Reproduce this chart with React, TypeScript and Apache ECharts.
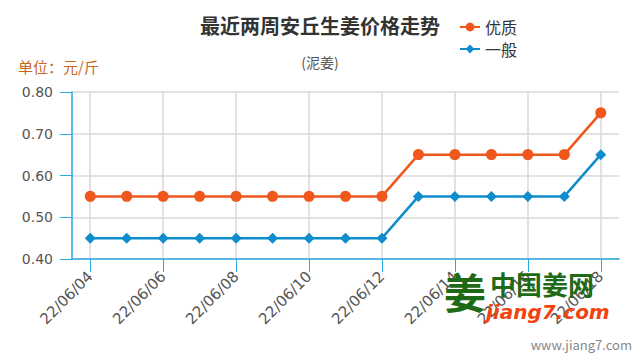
import React, { useEffect, useRef } from "react";
import * as echarts from "echarts";

const dates = [
  "22/06/04", "22/06/05", "22/06/06", "22/06/07", "22/06/08",
  "22/06/09", "22/06/10", "22/06/11", "22/06/12", "22/06/13",
  "22/06/14", "22/06/15", "22/06/16", "22/06/17", "22/06/18",
];
const premium = [0.55, 0.55, 0.55, 0.55, 0.55, 0.55, 0.55, 0.55, 0.55, 0.65, 0.65, 0.65, 0.65, 0.65, 0.75];
const normal = [0.45, 0.45, 0.45, 0.45, 0.45, 0.45, 0.45, 0.45, 0.45, 0.55, 0.55, 0.55, 0.55, 0.55, 0.65];
const seriesNames = ["优质", "一般"];

const FONT = '"Noto Sans CJK SC", "Noto Sans", sans-serif';
const NUM_FONT = '"DejaVu Sans", "Noto Sans", sans-serif';
const AXIS_BLUE = "#2aa9e0";

export default function App() {
  const ref = useRef<HTMLDivElement>(null);
  useEffect(() => {
    const chart = echarts.init(ref.current!, null, { renderer: "svg" });
    chart.setOption({
      animation: false,
      backgroundColor: "#fff",
      textStyle: { fontFamily: FONT },
      title: [
        {
          text: "最近两周安丘生姜价格走势",
          left: "center",
          top: 10,
          textStyle: { fontSize: 20, fontWeight: "bold", color: "#333", fontFamily: FONT },
        },
        {
          text: "(泥姜)",
          left: "center",
          top: 50,
          textStyle: { fontSize: 14, fontWeight: "normal", color: "#555", fontFamily: FONT },
        },
      ],
      legend: {
        orient: "vertical",
        left: 454,
        top: 14,
        itemWidth: 20,
        itemHeight: 11,
        itemGap: 6,
        textStyle: { fontSize: 16, color: "#333", fontFamily: FONT },
        data: seriesNames,
      },
      grid: { left: 72, right: 21, top: 92, bottom: 101 },
      xAxis: {
        type: "category",
        data: dates,
        boundaryGap: true,
        axisLine: { lineStyle: { color: AXIS_BLUE, width: 1.5 } },
        axisTick: { show: true, interval: 1, alignWithLabel: true, length: 13, lineStyle: { color: AXIS_BLUE } },
        axisLabel: { interval: 1, rotate: 45, margin: 15, fontSize: 15, color: "#555", fontFamily: NUM_FONT },
        splitLine: { show: true, interval: 1, alignWithLabel: true, lineStyle: { color: "#d9d9d9", width: 1.5 } },
      },
      yAxis: {
        type: "value",
        min: 0.4,
        max: 0.8,
        interval: 0.1,
        name: "单位：元/斤",
        nameLocation: "end",
        nameGap: 18,
        nameTextStyle: { color: "#c8661e", fontSize: 15, align: "left", padding: [0, 0, 0, -54], fontFamily: FONT },
        axisLine: { show: true, lineStyle: { color: AXIS_BLUE, width: 1.5 } },
        axisTick: { show: true, length: 12, lineStyle: { color: AXIS_BLUE } },
        axisLabel: { margin: 19, fontSize: 14, color: "#555", formatter: (v: number) => v.toFixed(2), fontFamily: NUM_FONT },
        splitLine: { show: true, lineStyle: { color: "#d9d9d9", width: 1.5 } },
      },
      series: [
        {
          name: seriesNames[0],
          type: "line",
          data: premium,
          symbol: "circle",
          symbolSize: 11,
          itemStyle: { color: "#ef571d" },
          lineStyle: { color: "#ef571d", width: 2.5 },
        },
        {
          name: seriesNames[1],
          type: "line",
          data: normal,
          symbol: "diamond",
          symbolSize: 11,
          itemStyle: { color: "#0e8ccb" },
          lineStyle: { color: "#0e8ccb", width: 2.5 },
        },
      ],
      graphic: [
        {
          type: "text",
          left: 490,
          top: 270,
          z: 100,
          style: { text: "中国姜网", fontSize: 26, lineHeight: 26, fontWeight: "bold", fill: "#1f6a16", fontFamily: FONT },
        },
        {
          type: "text",
          left: 486,
          top: 302,
          z: 100,
          style: { text: "jiang7.com", fontSize: 20, lineHeight: 20, fontWeight: "bold", fontStyle: "italic", fill: "#f2420f", fontFamily: NUM_FONT },
        },
        {
          type: "text",
          left: 444,
          top: 268,
          z: 100,
          style: { text: "姜", fontSize: 42, lineHeight: 44, fontWeight: "bold", fill: "#1f6a16", fontFamily: FONT },
        },
        {
          type: "text",
          right: 8,
          top: 338,
          style: { text: "www.jiang7.com", fontSize: 13, fill: "#888", fontFamily: FONT },
        },
      ],
    });
    return () => chart.dispose();
  }, []);
  return <div ref={ref} style={{ width: 640, height: 360, position: "fixed", left: 0, top: 0 }} />;
}
